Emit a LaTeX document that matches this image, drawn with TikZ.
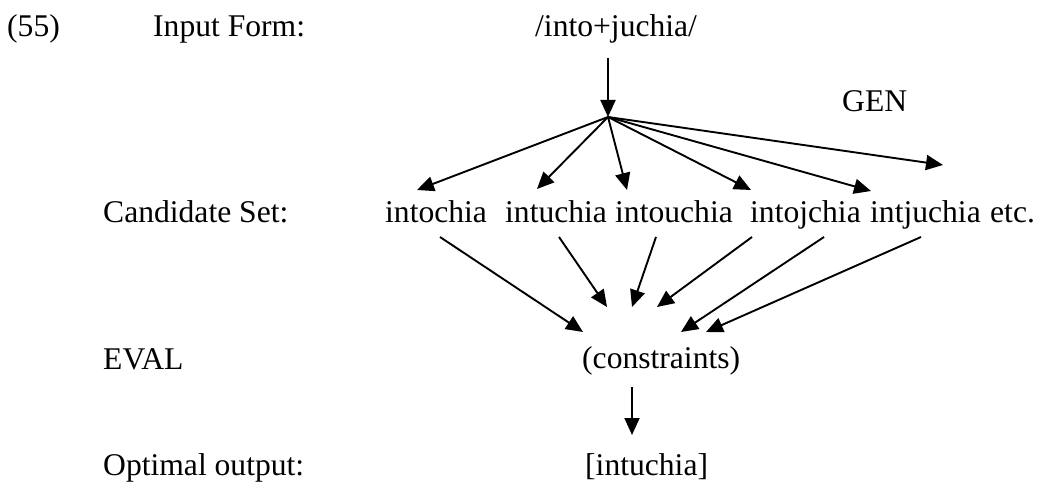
\documentclass[tikz,border=0pt]{standalone}
\usepackage{fontspec}
\setmainfont{Liberation Serif}
\usetikzlibrary{arrows.meta}
\begin{document}
\begin{tikzpicture}[x=1pt,y=-1pt,
  lbl/.style={inner sep=0pt,anchor=base west,font=\fontsize{31.6}{38}\selectfont},
  arr/.style={line width=1.9pt,-{Triangle[length=17pt,width=15pt]}}]
\useasboundingbox (0,0) rectangle (1044,484);
% row labels
\node[lbl] (num)   at (7,37)    {(55)};
\node[lbl] (inlab) at (153,37)  {Input Form:};
\node[lbl] (cslab) at (103,222) {Candidate Set:};
\node[lbl] (evlab) at (103,369) {EVAL};
\node[lbl] (oplab) at (103,475) {Optimal output:};
% input form and GEN
\node[lbl] (input) at (535,37)  {/into+juchia/};
\node[lbl] (gen)   at (842,112) {GEN};
% candidate set
\node[lbl] (c1) at (385,222) {intochia};
\node[lbl] (c2) at (505,222) {intuchia};
\node[lbl] (c3) at (615,222) {intouchia};
\node[lbl] (c4) at (750,222) {intojchia};
\node[lbl] (c5) at (870,222) {intjuchia};
\node[lbl] (c6) at (990,222) {etc.};
% evaluation and output
\node[lbl] (eval) at (582,368) {(constraints)};
\node[lbl] (out)  at (585,475) {[intuchia]};
% connector end points
\coordinate (inbot) at (608,58);
\coordinate (fan)   at (608,117);
\coordinate (g1) at (417,190);
\coordinate (g2) at (537,189);
\coordinate (g3) at (627,190);
\coordinate (g4) at (751,190);
\coordinate (g5) at (871,191);
\coordinate (g6) at (943,165);
\coordinate (s1) at (440,237);
\coordinate (s2) at (559,237);
\coordinate (s3) at (656,237);
\coordinate (s4) at (752,237);
\coordinate (s5) at (824,237);
\coordinate (s6) at (921,237);
\coordinate (e1) at (583,332);
\coordinate (e2) at (607,307);
\coordinate (e3) at (632,307);
\coordinate (e4) at (657,307);
\coordinate (e5) at (681,332);
\coordinate (e6) at (706,332);
\coordinate (evbot) at (632,387);
\coordinate (outtop) at (632,435);
% GEN: input to candidates
\draw[arr] (inbot) -- (fan);
\foreach \g in {g1,g2,g3,g4,g5,g6} \draw[arr] (fan) -- (\g);
% EVAL: candidates to constraints
\draw[arr] (s1) -- (e1);
\draw[arr] (s2) -- (e2);
\draw[arr] (s3) -- (e3);
\draw[arr] (s4) -- (e4);
\draw[arr] (s5) -- (e5);
\draw[arr] (s6) -- (e6);
\draw[arr] (evbot) -- (outtop);
\end{tikzpicture}
\end{document}
